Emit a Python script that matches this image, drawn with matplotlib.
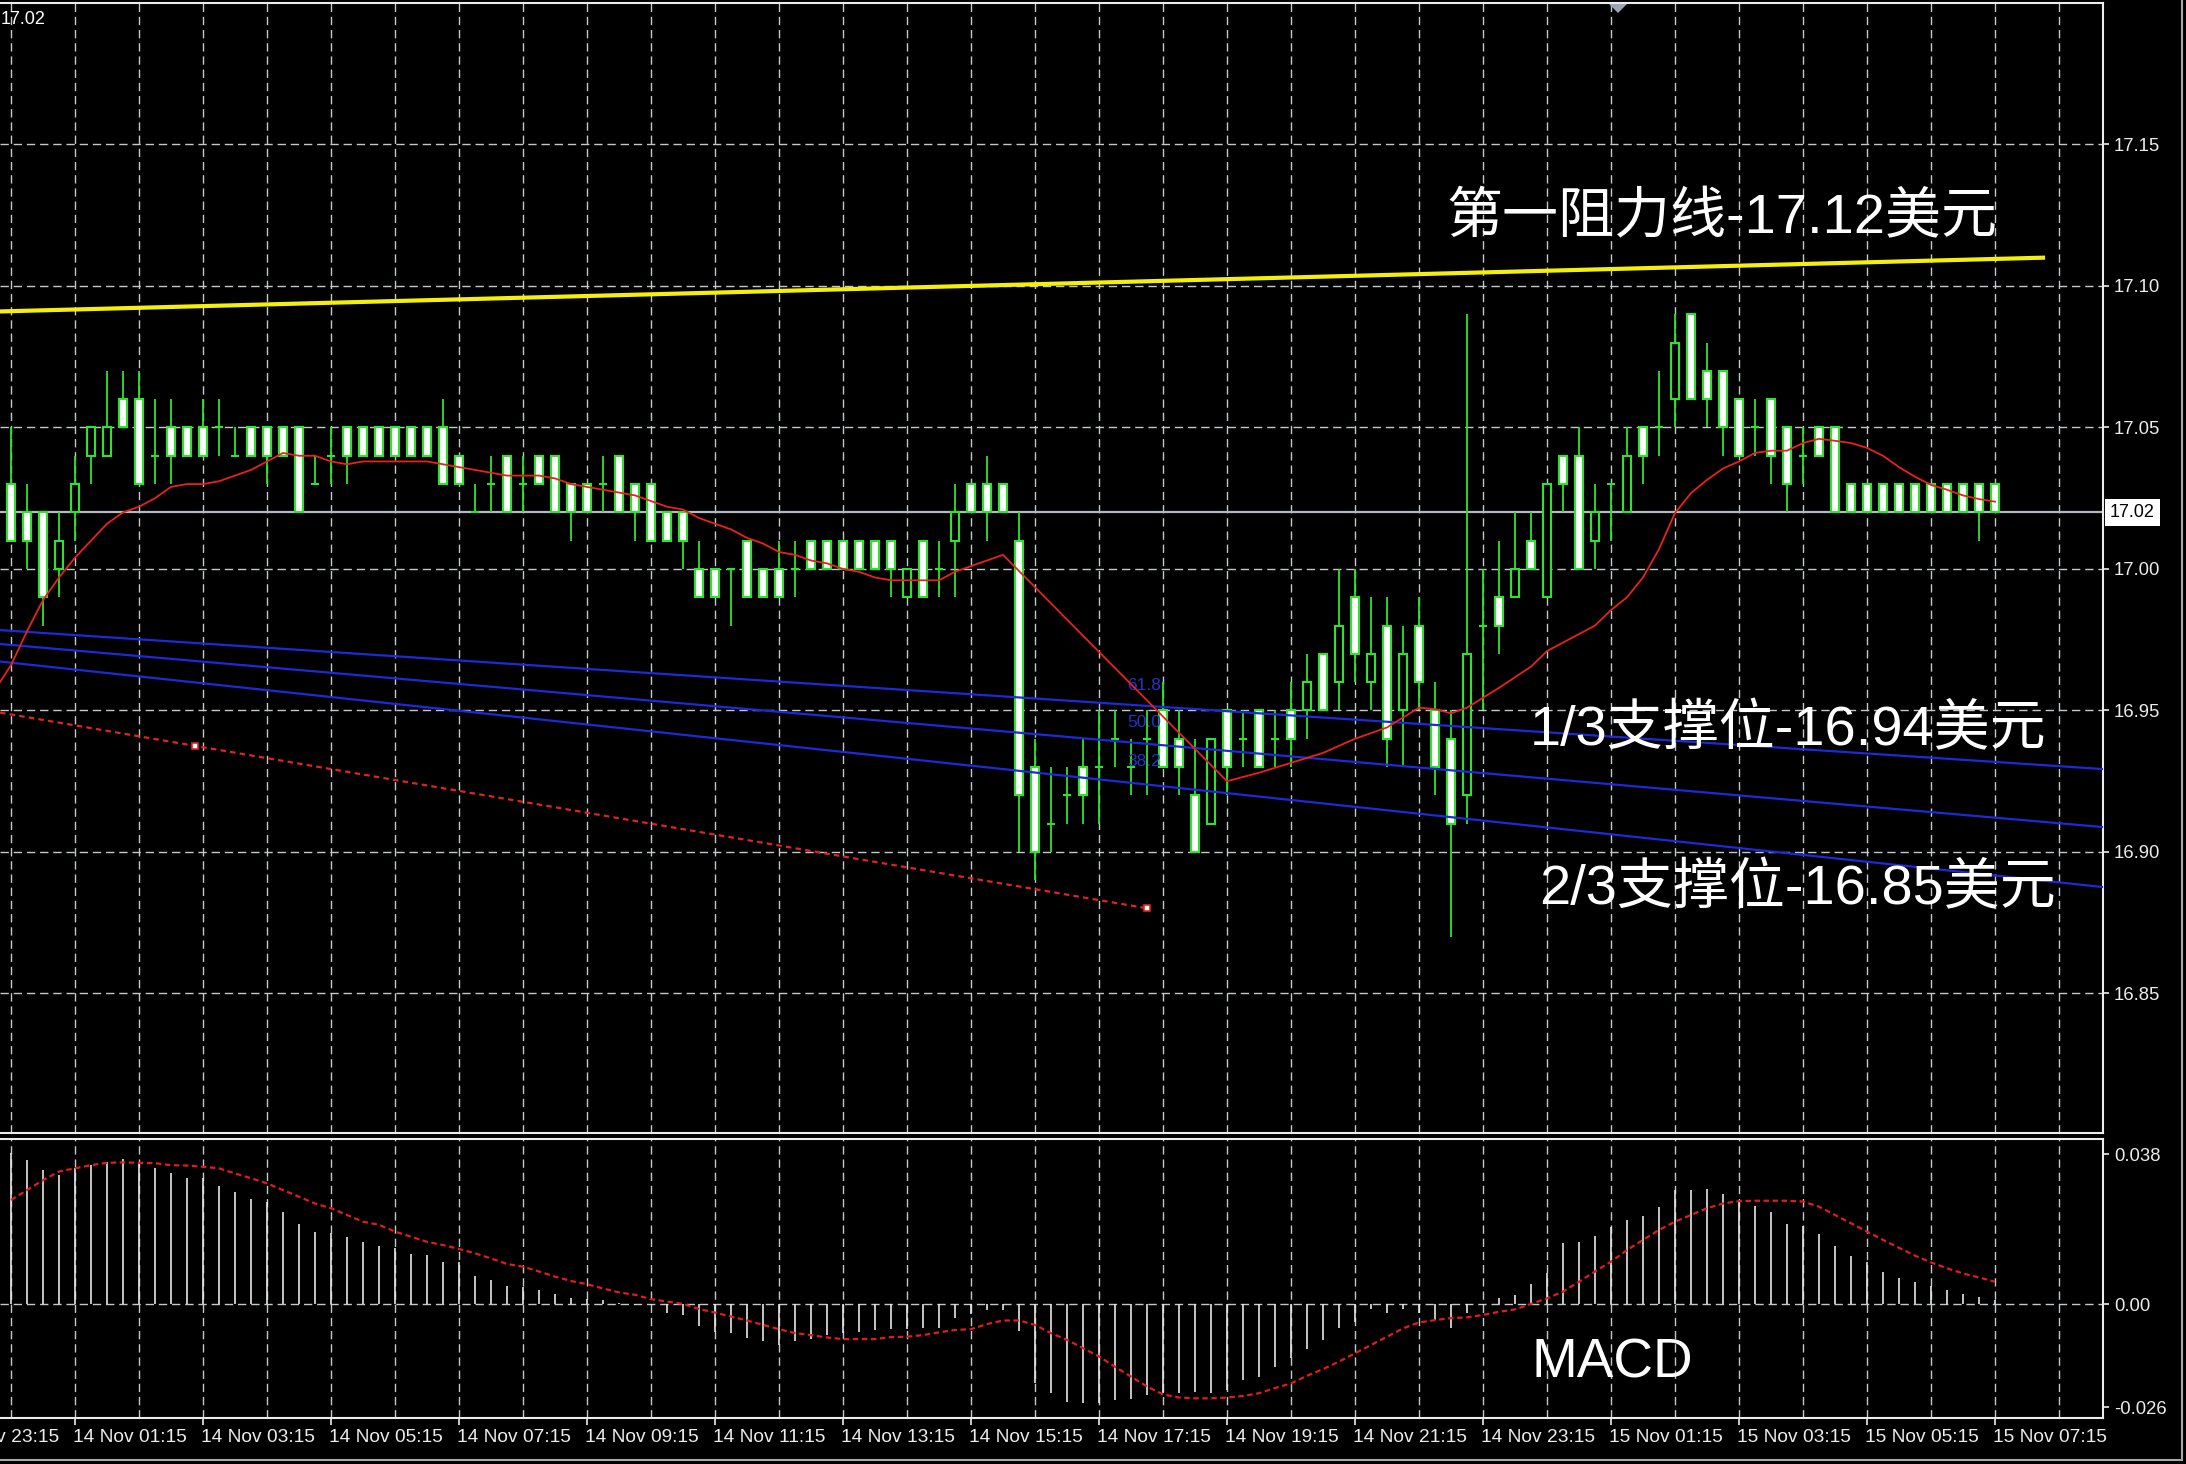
import matplotlib
matplotlib.use("Agg")
import matplotlib.pyplot as plt
from matplotlib.patches import Rectangle, Polygon
from matplotlib.lines import Line2D
from matplotlib.transforms import blended_transform_factory

plt.rcParams['font.family'] = ['Liberation Sans', 'DejaVu Sans']
plt.rcParams['lines.scale_dashes'] = False

W, H = 2186, 1464

# ---- values (bar 0 = 14 Nov 00:15) ----
opens = [17.03, 17.02, 17.02, 17.00, 17.02, 17.04, 17.04, 17.06, 17.06, 17.04,
         17.05, 17.05, 17.05, 17.05, 17.04, 17.05, 17.05, 17.05, 17.05, 17.03,
         17.04, 17.05, 17.05, 17.05, 17.05, 17.05, 17.05, 17.05, 17.04, 17.02,
         17.03, 17.04, 17.03, 17.04, 17.04, 17.03, 17.03, 17.03, 17.04, 17.03,
         17.03, 17.02, 17.02, 17.00, 17.00, 17.00, 17.01, 17.00, 17.00, 17.00,
         17.01, 17.01, 17.01, 17.01, 17.01, 17.01, 16.99, 17.01, 17.00, 17.01,
         17.03, 17.03, 17.03, 17.01, 16.93, 16.91, 16.92, 16.93, 16.93, 16.94,
         16.93, 16.94, 16.95, 16.94, 16.92, 16.91, 16.95, 16.94, 16.95, 16.94,
         16.95, 16.95, 16.97, 16.96, 16.99, 16.96, 16.98, 16.95, 16.98, 16.95,
         16.94, 16.92, 16.98, 16.99, 16.99, 17.01, 16.99, 17.04, 17.04, 17.01,
         17.03, 17.02, 17.05, 17.05, 17.06, 17.09, 17.07, 17.07, 17.06, 17.05,
         17.06, 17.05, 17.04, 17.05, 17.05, 17.03, 17.03, 17.03, 17.03, 17.03,
         17.03, 17.03, 17.03, 17.03, 17.03]
highs = [17.05, 17.03, 17.02, 17.02, 17.04, 17.05, 17.07, 17.07, 17.07, 17.06,
         17.06, 17.05, 17.06, 17.06, 17.05, 17.05, 17.05, 17.05, 17.05, 17.04,
         17.05, 17.05, 17.05, 17.05, 17.05, 17.05, 17.05, 17.06, 17.04, 17.03,
         17.04, 17.04, 17.04, 17.04, 17.04, 17.03, 17.03, 17.04, 17.04, 17.03,
         17.03, 17.02, 17.02, 17.01, 17.00, 17.00, 17.01, 17.00, 17.01, 17.01,
         17.01, 17.01, 17.01, 17.01, 17.01, 17.01, 17.00, 17.01, 17.01, 17.03,
         17.03, 17.04, 17.03, 17.02, 16.94, 16.93, 16.93, 16.94, 16.95, 16.95,
         16.94, 16.95, 16.96, 16.95, 16.94, 16.94, 16.95, 16.95, 16.95, 16.95,
         16.96, 16.97, 16.97, 17.00, 17.00, 16.99, 16.99, 16.98, 16.99, 16.96,
         16.95, 17.09, 17.00, 17.01, 17.02, 17.02, 17.03, 17.04, 17.05, 17.03,
         17.03, 17.05, 17.05, 17.07, 17.09, 17.09, 17.08, 17.07, 17.06, 17.06,
         17.06, 17.05, 17.05, 17.05, 17.05, 17.03, 17.03, 17.03, 17.03, 17.03,
         17.03, 17.03, 17.03, 17.03, 17.03]
lows = [17.01, 17.00, 16.98, 16.99, 17.01, 17.03, 17.04, 17.05, 17.03, 17.03,
        17.03, 17.04, 17.04, 17.04, 17.04, 17.04, 17.03, 17.04, 17.02, 17.03,
        17.03, 17.03, 17.04, 17.04, 17.04, 17.04, 17.04, 17.03, 17.03, 17.02,
        17.02, 17.02, 17.02, 17.03, 17.02, 17.01, 17.02, 17.02, 17.02, 17.01,
        17.01, 17.01, 17.00, 16.99, 16.99, 16.98, 16.99, 16.99, 16.99, 16.99,
        17.00, 17.00, 17.00, 17.00, 17.00, 16.99, 16.99, 16.99, 16.99, 16.99,
        17.02, 17.01, 17.02, 16.90, 16.89, 16.90, 16.91, 16.91, 16.91, 16.93,
        16.92, 16.92, 16.93, 16.92, 16.90, 16.91, 16.92, 16.93, 16.93, 16.93,
        16.93, 16.94, 16.95, 16.95, 16.96, 16.95, 16.93, 16.93, 16.95, 16.92,
        16.87, 16.91, 16.95, 16.97, 16.99, 17.00, 16.99, 17.02, 17.00, 17.00,
        17.01, 17.02, 17.03, 17.04, 17.05, 17.06, 17.05, 17.04, 17.04, 17.04,
        17.03, 17.02, 17.03, 17.04, 17.02, 17.02, 17.02, 17.02, 17.02, 17.02,
        17.02, 17.02, 17.02, 17.01, 17.02]
closes = [17.01, 17.01, 16.99, 17.01, 17.03, 17.05, 17.05, 17.05, 17.03, 17.04,
          17.04, 17.04, 17.04, 17.05, 17.04, 17.04, 17.04, 17.04, 17.02, 17.03,
          17.04, 17.04, 17.04, 17.04, 17.04, 17.04, 17.04, 17.03, 17.03, 17.02,
          17.03, 17.02, 17.03, 17.03, 17.02, 17.02, 17.02, 17.03, 17.02, 17.02,
          17.01, 17.01, 17.01, 16.99, 16.99, 17.00, 16.99, 16.99, 16.99, 17.00,
          17.00, 17.00, 17.00, 17.00, 17.00, 17.00, 17.00, 16.99, 17.00, 17.02,
          17.02, 17.02, 17.02, 16.92, 16.90, 16.91, 16.92, 16.92, 16.93, 16.94,
          16.93, 16.94, 16.93, 16.93, 16.90, 16.94, 16.93, 16.94, 16.93, 16.94,
          16.94, 16.96, 16.95, 16.98, 16.97, 16.97, 16.94, 16.97, 16.96, 16.93,
          16.91, 16.97, 16.98, 16.98, 17.00, 17.00, 17.03, 17.03, 17.00, 17.02,
          17.03, 17.04, 17.04, 17.05, 17.08, 17.06, 17.06, 17.05, 17.04, 17.05,
          17.04, 17.03, 17.04, 17.04, 17.02, 17.02, 17.02, 17.02, 17.02, 17.02,
          17.02, 17.02, 17.02, 17.02, 17.02]

# red moving average (bar index, value)
ma_idx = [-0.69, 0, 1, 2, 3, 4, 5, 6, 7, 8, 9, 10, 11, 12, 13, 14, 15, 16, 17, 18,
          19, 20, 21, 22, 23, 24, 25, 26, 27, 28, 29, 30, 31, 32, 33, 34, 35, 36,
          37, 38, 39, 40, 41, 42, 43, 44, 45, 46, 47, 48, 49, 50, 51, 52, 53, 54,
          55, 56, 57, 58, 59, 60, 61, 62, 76, 77, 78, 80, 82, 84, 86, 88, 89, 90,
          91, 93, 95, 96, 97, 98, 99, 100, 101, 102, 103, 104, 105, 106, 107, 108,
          109, 110, 111, 112, 113, 114, 115, 116, 117, 118, 119, 120, 121, 122,
          123, 124]
ma_val = [16.960, 16.966, 16.978, 16.989, 16.997, 17.004, 17.010, 17.016, 17.020,
          17.022, 17.025, 17.029, 17.030, 17.030, 17.031, 17.033, 17.035, 17.038,
          17.041, 17.040, 17.040, 17.038, 17.037, 17.038, 17.038, 17.038, 17.038,
          17.038, 17.037, 17.036, 17.035, 17.034, 17.033, 17.033, 17.033, 17.032,
          17.030, 17.029, 17.028, 17.027, 17.026, 17.024, 17.022, 17.021, 17.018,
          17.016, 17.014, 17.011, 17.009, 17.006, 17.005, 17.003, 17.002, 17.000,
          16.999, 16.997, 16.996, 16.996, 16.996, 16.996, 16.999, 17.001, 17.003,
          17.005, 16.925, 16.9265, 16.928, 16.9315, 16.935, 16.940, 16.944, 16.951,
          16.9505, 16.949, 16.951, 16.958, 16.9655, 16.971, 16.974, 16.977, 16.980,
          16.9855, 16.990, 16.997, 17.007, 17.0198, 17.0268, 17.0315, 17.0355,
          17.038, 17.041, 17.0418, 17.0418, 17.0445, 17.046, 17.0453, 17.0445,
          17.0428, 17.040, 17.036, 17.0326, 17.0297, 17.028, 17.026, 17.0247,
          17.0238]

macd_hist = [0.0382, 0.0365, 0.0340, 0.0327, 0.0344, 0.0352, 0.0361, 0.0367, 0.0361, 0.0344,
             0.0331, 0.0320, 0.0319, 0.0299, 0.0285, 0.0266, 0.0258, 0.0234, 0.0203, 0.0184,
             0.0181, 0.0169, 0.0158, 0.0148, 0.0142, 0.0126, 0.0125, 0.0108, 0.0108, 0.0072,
             0.0062, 0.0047, 0.0045, 0.0036, 0.0026, 0.0017, 0.0013, 0.0011, 0.0003, -0.0002,
             -0.0001, -0.0023, -0.0027, -0.0055, -0.0069, -0.0073, -0.0086, -0.0094, -0.0103, -0.0094,
             -0.0089, -0.0078, -0.0073, -0.0071, -0.0065, -0.0062, -0.0063, -0.0061, -0.0061, -0.0034,
             -0.0025, -0.0015, -0.0015, -0.0067, -0.0200, -0.0225, -0.0246, -0.0250, -0.0250, -0.0242,
             -0.0240, -0.0229, -0.0225, -0.0225, -0.0221, -0.0225, -0.0217, -0.0191, -0.0183, -0.0158,
             -0.0137, -0.0114, -0.0090, -0.0059, -0.0046, -0.0013, -0.0023, -0.0013, -0.0023, -0.0040,
             -0.0059, -0.0023, -0.0003, 0.0015, 0.0024, 0.0051, 0.0078, 0.0156, 0.0158, 0.0173,
             0.0195, 0.0213, 0.0223, 0.0245, 0.0289, 0.0289, 0.0291, 0.0278, 0.0260, 0.0249,
             0.0234, 0.0203, 0.0198, 0.0178, 0.0148, 0.0122, 0.0106, 0.0081, 0.0067, 0.0057,
             0.0046, 0.0036, 0.0026, 0.0019, 0.0011]
macd_signal = [0.0264, 0.0289, 0.0314, 0.0336, 0.0344, 0.0352, 0.0358, 0.0359, 0.0358, 0.0357,
               0.0352, 0.0351, 0.0348, 0.0344, 0.0331, 0.0319, 0.0306, 0.0289, 0.0272, 0.0255,
               0.0243, 0.0226, 0.0209, 0.0201, 0.0184, 0.0171, 0.0158, 0.0150, 0.0140, 0.0129,
               0.0116, 0.0102, 0.0095, 0.0083, 0.0070, 0.0059, 0.0051, 0.0040, 0.0030, 0.0024,
               0.0013, 0.0007, 0.0001, -0.0012, -0.0021, -0.0031, -0.0041, -0.0052, -0.0063, -0.0073,
               -0.0078, -0.0084, -0.0088, -0.0088, -0.0088, -0.0083, -0.0082, -0.0078, -0.0071, -0.0065,
               -0.0063, -0.0050, -0.0041, -0.0041, -0.0052, -0.0073, -0.0090, -0.0111, -0.0132, -0.0158,
               -0.0183, -0.0208, -0.0228, -0.0236, -0.0238, -0.0238, -0.0236, -0.0232, -0.0225, -0.0212,
               -0.0200, -0.0181, -0.0164, -0.0145, -0.0124, -0.0103, -0.0082, -0.0061, -0.0046, -0.0040,
               -0.0035, -0.0033, -0.0027, -0.0019, -0.0013, 0.0001, 0.0015, 0.0032, 0.0057, 0.0083,
               0.0108, 0.0137, 0.0163, 0.0188, 0.0209, 0.0226, 0.0243, 0.0255, 0.0261, 0.0262,
               0.0262, 0.0262, 0.0260, 0.0247, 0.0226, 0.0205, 0.0184, 0.0163, 0.0143, 0.0123,
               0.0106, 0.0091, 0.0078, 0.0068, 0.0057]

# drawn objects: resistance line, blue channel, red dotted trendline
resist_idx = [-0.69, 127.0]
resist_val = [17.091, 17.110]
chan_idx = [-0.69, 130.75]
chan_top = [16.9784, 16.9293]
chan_mid = [16.9735, 16.9088]
chan_low = [16.9673, 16.8876]
trend_idx = [11.5, 71.0]
trend_val = [16.9375, 16.8801]
fib_labels = ['61.8', '50.0', '38.2']
fib_val = [16.9587, 16.9459, 16.9318]

last_price = 17.02
price_ticks = [17.15, 17.10, 17.05, 17.00, 16.95, 16.90, 16.85]
macd_ticks = [0.038, 0.0, -0.026]
macd_tick_labels = ['0.038', '0.00', '-0.026']
time_labels = ['13 Nov 23:15', '14 Nov 01:15', '14 Nov 03:15', '14 Nov 05:15',
               '14 Nov 07:15', '14 Nov 09:15', '14 Nov 11:15', '14 Nov 13:15',
               '14 Nov 15:15', '14 Nov 17:15', '14 Nov 19:15', '14 Nov 21:15',
               '14 Nov 23:15', '15 Nov 01:15', '15 Nov 03:15', '15 Nov 05:15',
               '15 Nov 07:15']

GREEN = '#2ee22e'
GRID = '#c4c8cc'
FG = '#ececec'
BIG = ['Liberation Sans', 'Noto Sans CJK SC', 'DejaVu Sans']


def fx(px):
    return px / W


def fy(py):
    return 1 - py / H


fig = plt.figure(figsize=(W / 100, H / 100), dpi=100, facecolor='black')

ax = fig.add_axes([0, fy(1133), fx(2103), (1133 - 2.7) / H], facecolor='black')
axm = fig.add_axes([0, fy(1418), fx(2103), (1418 - 1139) / H], facecolor='black')

x_lo, x_hi = -0.6875, 130.75
ax.set_xlim(x_lo, x_hi)
ax.set_ylim(16.8007, 17.2001)
axm.set_xlim(x_lo, x_hi)
axm.set_ylim(-0.02877, 0.04182)

for a in (ax, axm):
    a.spines['left'].set_visible(False)
    for s in ('top', 'right', 'bottom'):
        a.spines[s].set_color(FG)
        a.spines[s].set_linewidth(1.5)
    a.yaxis.tick_right()
    a.tick_params(axis='y', colors=FG, length=4, width=1.2, pad=4, labelsize=13.3)
    a.tick_params(axis='x', colors=FG, length=5, width=1.2, labelbottom=False)
    # hourly vertical grid
    for g in range(0, 131, 4):
        a.axvline(g, color=GRID, lw=1.0, ls=(0, (6, 3.5)), zorder=1)

ax.set_xticks([])
ax.set_yticks(price_ticks)
ax.set_yticklabels([f'{p:.2f}' for p in price_ticks])
for p in price_ticks:
    ax.axhline(p, color=GRID, lw=1.0, ls=(0, (6, 3.5)), zorder=1)

# current price line + box
ax.axhline(last_price, color='#b4bac4', lw=1.6, zorder=2)
bt = blended_transform_factory(ax.transAxes, ax.transData)
ax.text(1.0 + 7 / 2103, last_price, f'{last_price:.2f}', transform=bt, ha='left', va='center',
        color='black', fontsize=13, clip_on=False,
        bbox=dict(facecolor='white', edgecolor='none', pad=3.5))

# blue channel
for vals in (chan_top, chan_mid, chan_low):
    ax.plot(chan_idx, vals, color='#1c2ad8', lw=1.6, zorder=4)
for lab, v in zip(fib_labels, fib_val):
    ax.text(69.75, v, lab, color='#2433c8', fontsize=12.5, ha='left', va='center', zorder=4)

# red dotted trendline, extended to the left edge
slope = (trend_val[1] - trend_val[0]) / (trend_idx[1] - trend_idx[0])
y_left = trend_val[0] + slope * (x_lo - trend_idx[0])
ax.plot([x_lo, trend_idx[1]], [y_left, trend_val[1]], color='#e02420', lw=1.6,
        ls=(0, (4, 3)), zorder=4)
ax.plot(trend_idx, trend_val, 's', ms=4.5, mfc='white', mec='#e02420', mew=1.2, zorder=5)

# resistance line
ax.plot(resist_idx, resist_val, color='#f4f00c', lw=3.0, zorder=4)

# candles
for i, (o, h, l, c) in enumerate(zip(opens, highs, lows, closes)):
    ax.vlines(i, l, h, color=GREEN, lw=1.3, zorder=3)
    if o == c:
        ax.hlines(o, i - 0.26, i + 0.26, color=GREEN, lw=1.5, zorder=3)
    else:
        face = 'white' if c < o else 'black'
        ax.add_patch(Rectangle((i - 0.23, min(o, c)), 0.46, abs(c - o), facecolor=face,
                               edgecolor=GREEN, lw=1.5, zorder=3))

# moving average
ax.plot(ma_idx, ma_val, color='#e8221c', lw=1.3, zorder=5)

# MACD panel
axm.set_yticks(macd_ticks)
axm.set_yticklabels(macd_tick_labels)
axm.axhline(0, color=GRID, lw=1.0, ls=(0, (6, 3.5)), zorder=1)
bars = list(range(len(macd_hist)))
axm.vlines(bars, 0, macd_hist, color='#e6e6e6', lw=1.2, zorder=3)
axm.plot(bars, macd_signal, color='#e01c1c', lw=1.6, ls=(0, (4, 2.5)), zorder=4)

tick_pos = [-4 + 8 * k for k in range(len(time_labels))]
axm.set_xticks([t for t in tick_pos if t >= x_lo])
bx = blended_transform_factory(axm.transData, axm.transAxes)
for t, lab in zip(tick_pos, time_labels):
    axm.text(t - 0.12, -19 / 279, lab, transform=bx, ha='left', va='center',
             color=FG, fontsize=13.8, clip_on=False)

# annotations
fig.text(fx(1446), fy(219), '第一阻力线-17.12美元', color='white', fontsize=40.3,
         family=BIG, ha='left', va='center')
fig.text(fx(1530), fy(731), '1/3支撑位-16.94美元', color='white', fontsize=40.3,
         family=BIG, ha='left', va='center')
fig.text(fx(1539), fy(890), '2/3支撑位-16.85美元', color='white', fontsize=40.3,
         family=BIG, ha='left', va='center')
fig.text(fx(1531), fy(1364), 'MACD', color='white', fontsize=39.5, ha='left', va='center')
fig.text(fx(1), fy(19), '17.02', color='white', fontsize=13, ha='left', va='center')

# shift marker and window frame
fig.add_artist(Polygon([[fx(1609), fy(4)], [fx(1627), fy(4)], [fx(1618), fy(13)]],
                       closed=True, transform=fig.transFigure, facecolor='#9aa4b4',
                       edgecolor='none'))
fig.add_artist(Line2D([fx(2182), fx(2182)], [fy(0), fy(1460)], color='#a8a8a8', lw=1.5,
                      transform=fig.transFigure))
fig.add_artist(Line2D([fx(0), fx(2182)], [fy(1460), fy(1460)], color='#a8a8a8', lw=1.5,
                      transform=fig.transFigure))

fig.savefig('out.png', dpi=100, facecolor='black')
